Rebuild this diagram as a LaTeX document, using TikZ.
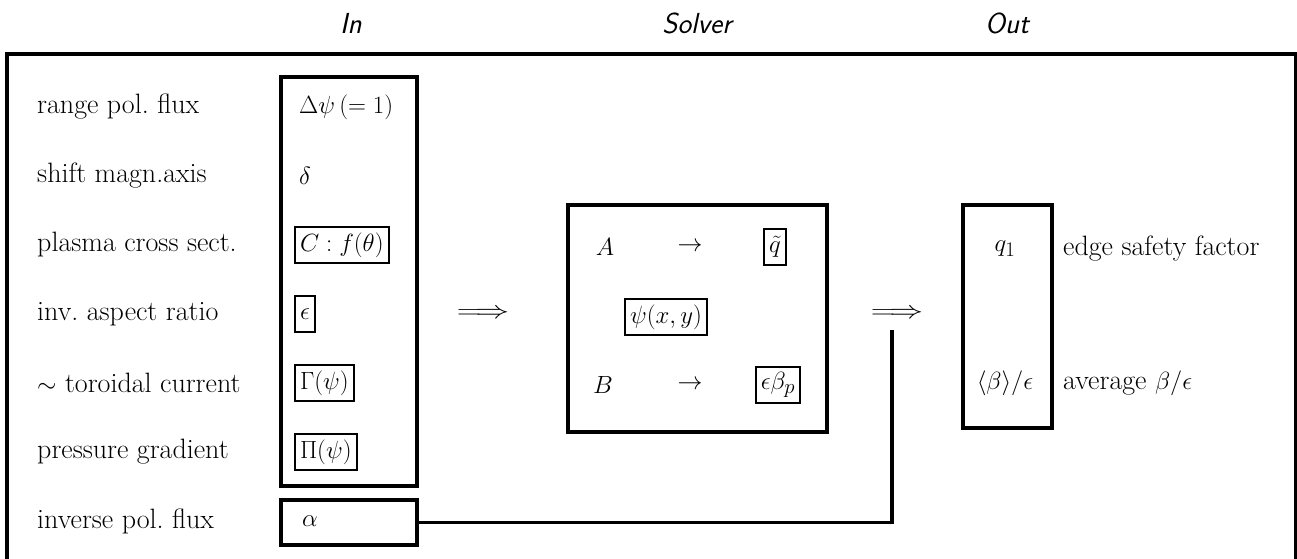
\documentclass[tikz,border=0pt]{standalone}
\usetikzlibrary{positioning}
\begin{document}
\begin{tikzpicture}[x=1pt,y=-1pt,
  every node/.style={font=\fontsize{28}{34}\selectfont, inner sep=0pt},
  lbl/.style={anchor=west},
  head/.style={font=\fontsize{29}{34}\selectfont\sffamily\slshape},
  group/.style={draw, line width=3.5pt},
  mbox/.style={draw, line width=2pt, inner xsep=5pt, inner ysep=4pt, minimum height=36pt},
  wire/.style={line width=3.5pt},
  dbl/.style={xscale=1.35},
]
\useasboundingbox (0,0) rectangle (1297,558);
\clip (0,0) rectangle (1297,558);

% outer frame (runs past the bottom of the page)
\draw[line width=4pt] (7,54) rectangle (1296,640);

% column headings
\node[head] (hin)  at (351,23)  {In};
\node[head] (hsol) at (697,23)  {Solver};
\node[head] (hout) at (1007,23) {Out};

% input column
\node[group, minimum width=136pt, minimum height=409pt] (inbox) at (349,281.5) {};
\node[group, minimum width=136pt, minimum height=45pt] (abox) at (349,522.5) {};

\node[lbl] (l1) at (37,107) {range pol.\ flux};
\node[lbl] (l2) at (37,176) {shift magn.axis};
\node[lbl] (l3) at (37,245) {plasma cross sect.};
\node[lbl] (l4) at (37,314) {inv.\ aspect ratio};
\node[lbl] (l5) at (37,383) {$\sim$ toroidal current};
\node[lbl] (l6) at (37,452) {pressure gradient};
\node[lbl] (l7) at (37,521) {inverse pol.\ flux};

\node[lbl] (v1) at (299,107) {$\Delta\psi\,(=1)$};
\node[lbl] (v2) at (299,176) {$\delta$};
\node[mbox, anchor=west] (v3) at (294,245) {$C:f(\theta)$};
\node[mbox, anchor=west] (v4) at (294,314) {$\epsilon$};
\node[mbox, anchor=west] (v5) at (294,383) {$\Gamma(\psi)$};
\node[mbox, anchor=west] (v6) at (294,452) {$\Pi(\psi)$};
\node[lbl] (v7) at (302,521) {$\alpha$};

% arrows between the columns
\node[dbl] (arr1) at (483,314) {$\Longrightarrow$};
\node[dbl] (arr2) at (897,314) {$\Longrightarrow$};

% solver
\node[group, minimum width=259pt, minimum height=227pt] (solbox) at (697.5,318.5) {};
\node (sa)  at (605,247) {$A$};
\node (sa2) at (690,247) {$\rightarrow$};
\node[mbox] (sq) at (775,247) {$\tilde q$};
\node[mbox] (spsi) at (666,317) {$\psi(x,y)$};
\node (sb)  at (603,385) {$B$};
\node (sb2) at (690,385) {$\rightarrow$};
\node[mbox] (seb) at (778,385) {$\epsilon\beta_p$};

% output column
\node[group, minimum width=89pt, minimum height=223pt] (outbox) at (1007.5,316.5) {};
\node (o1) at (1005,249) {$q_1$};
\node (o2) at (1005,383) {$\langle\beta\rangle/\epsilon$};
\node[lbl] (r1) at (1063,249) {edge safety factor};
\node[lbl] (r2) at (1063,383) {average $\beta/\epsilon$};

% alpha feeds the solver output
\coordinate (aend) at (892,330);
\draw[wire] (abox.east) -| (aend);
\end{tikzpicture}
\end{document}
